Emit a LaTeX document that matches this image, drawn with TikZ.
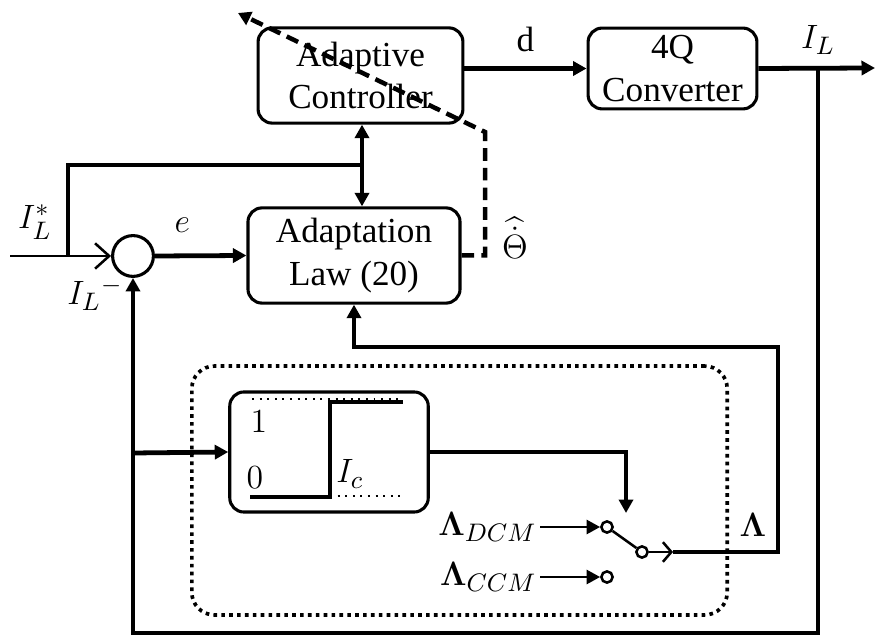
\documentclass[tikz,border=0pt]{standalone}
\usepackage{amsmath}
\usepackage{fontspec}
\setmainfont{Liberation Serif}
\usetikzlibrary{arrows.meta}

\begin{document}
\begin{tikzpicture}[
  x=0.0125cm, y=-0.0125cm,
  font=\fontsize{12.5}{15}\selectfont,
  >={Triangle[length=4.8pt,width=5pt]},
  blk/.style={
    draw, rounded corners=5pt, line width=1.1pt,
    align=center, inner sep=0pt
  },
  wire/.style={line width=1.7pt},
  thinwire/.style={line width=0.9pt},
  contact/.style={
    circle, draw, fill=white, line width=0.9pt,
    inner sep=0pt, minimum width=4pt
  }
]
  \useasboundingbox (0,0) rectangle (875,639);
  \node[blk, minimum width=2.56cm, minimum height=1.19cm] (ctrl) at (360.5,75.5){Adaptive\\Controller};
  \node[blk, minimum width=2.11cm, minimum height=1.01cm] (conv) at (672.5,68.5){4Q\\Converter};
  \node[blk, minimum width=2.65cm, minimum height=1.19cm] (law) at (354,255.5){Adaptation\\Law (20)};
  \node[circle, draw, line width=1.1pt, minimum width=0.51cm, inner sep=0pt] (sum) at (133,256){};
  \node[draw, rounded corners=8pt, line width=1.3pt, dash pattern=on 1.3pt off 1.5pt,
        minimum width=6.69cm, minimum height=3.11cm] (grp) at (459.5,490.5){};
  \node[blk, minimum width=2.48cm, minimum height=1.5cm] (relay) at (329,452){};

  % relay characteristic
  \draw[dotted, line width=0.7pt] (252,399) -- (403,399);
  \draw[dotted, line width=0.7pt] (330,496) -- (403,496);
  \draw[wire] (250,497) -- (330,497) -- (330,402) -- (403,402);
  \node (one) at (259,422){$1$};
  \node (zero) at (255,478){$0$};
  \node (ic) at (350,474){$I_c$};

  \coordinate (out) at (875,68);
  \coordinate (tap) at (818,68);
  \coordinate (bl) at (133,633);
  \coordinate (br) at (133,453);
  \coordinate (in) at (10,256);
  \coordinate (fk) at (68,256);
  \coordinate (jn) at (362,165);
  \coordinate (dk) at (485,132);
  \coordinate (dt) at (238,13);
  \coordinate (fb) at (778,347);
  \coordinate (rt) at (626,513);
  \coordinate (swt) at (673,552);

  \draw[wire, ->] (ctrl.east |- conv.west) -- (conv.west) node[midway, above=5pt, inner sep=0pt]{d};
  \draw[wire, ->] (conv.east) -- (out);
  \draw[wire, ->] (tap) |- (bl) -- (sum.south);
  \draw[wire, ->] (br) -- (relay.west);
  \draw[thinwire, -{Straight Barb[length=5pt,width=9pt]}] (in) -- (sum.west);
  \draw[wire] (fk) |- (jn);
  \draw[wire, ->] (jn) -- (jn |- ctrl.south);
  \draw[wire, ->] (jn) -- (jn |- law.north);
  \draw[wire, ->] (sum.east) -- (law.west) node[pos=0.3, above=4pt]{$e$};
  \draw[line width=1.6pt, dash pattern=on 4.5pt off 2.5pt, -{Triangle[open, fill=black, length=4.5pt,width=5pt]}]
    (law.east) -| (dk) -- (dt);
  \draw[wire, ->] (relay.east) -| (rt);

  % switch
  \node[contact] (c1) at (607,527){};
  \node[contact] (c2) at (607,577){};
  \node[contact] (c3) at (642,552){};
  \node[left, inner sep=1pt] (ldcm) at (540,527){$\boldsymbol{\Lambda}_{DCM}$};
  \node[left, inner sep=1pt] (lccm) at (540,577){$\boldsymbol{\Lambda}_{CCM}$};
  \draw[thinwire, ->] (ldcm) -- (c1);
  \draw[thinwire, ->] (lccm) -- (c2);
  \draw[thinwire] (c1) -- (c3);
  \draw[thinwire, -{Straight Barb[length=3pt,width=7pt]}] (c3) -- (swt);
  \draw[wire, ->] (swt) -| (fb) -| (law.south);

  \node (il) at (818,40){$I_L$};
  \node (ils) at (35,222){$I_L^*$};
  \node (ilm) at (95,294){$I_L{}^{-}$};
  \node (th) at (515,238){$\widehat{\dot{\Theta}}$};
  \node (lam) at (753,525){$\boldsymbol{\Lambda}$};
\end{tikzpicture}
\end{document}
